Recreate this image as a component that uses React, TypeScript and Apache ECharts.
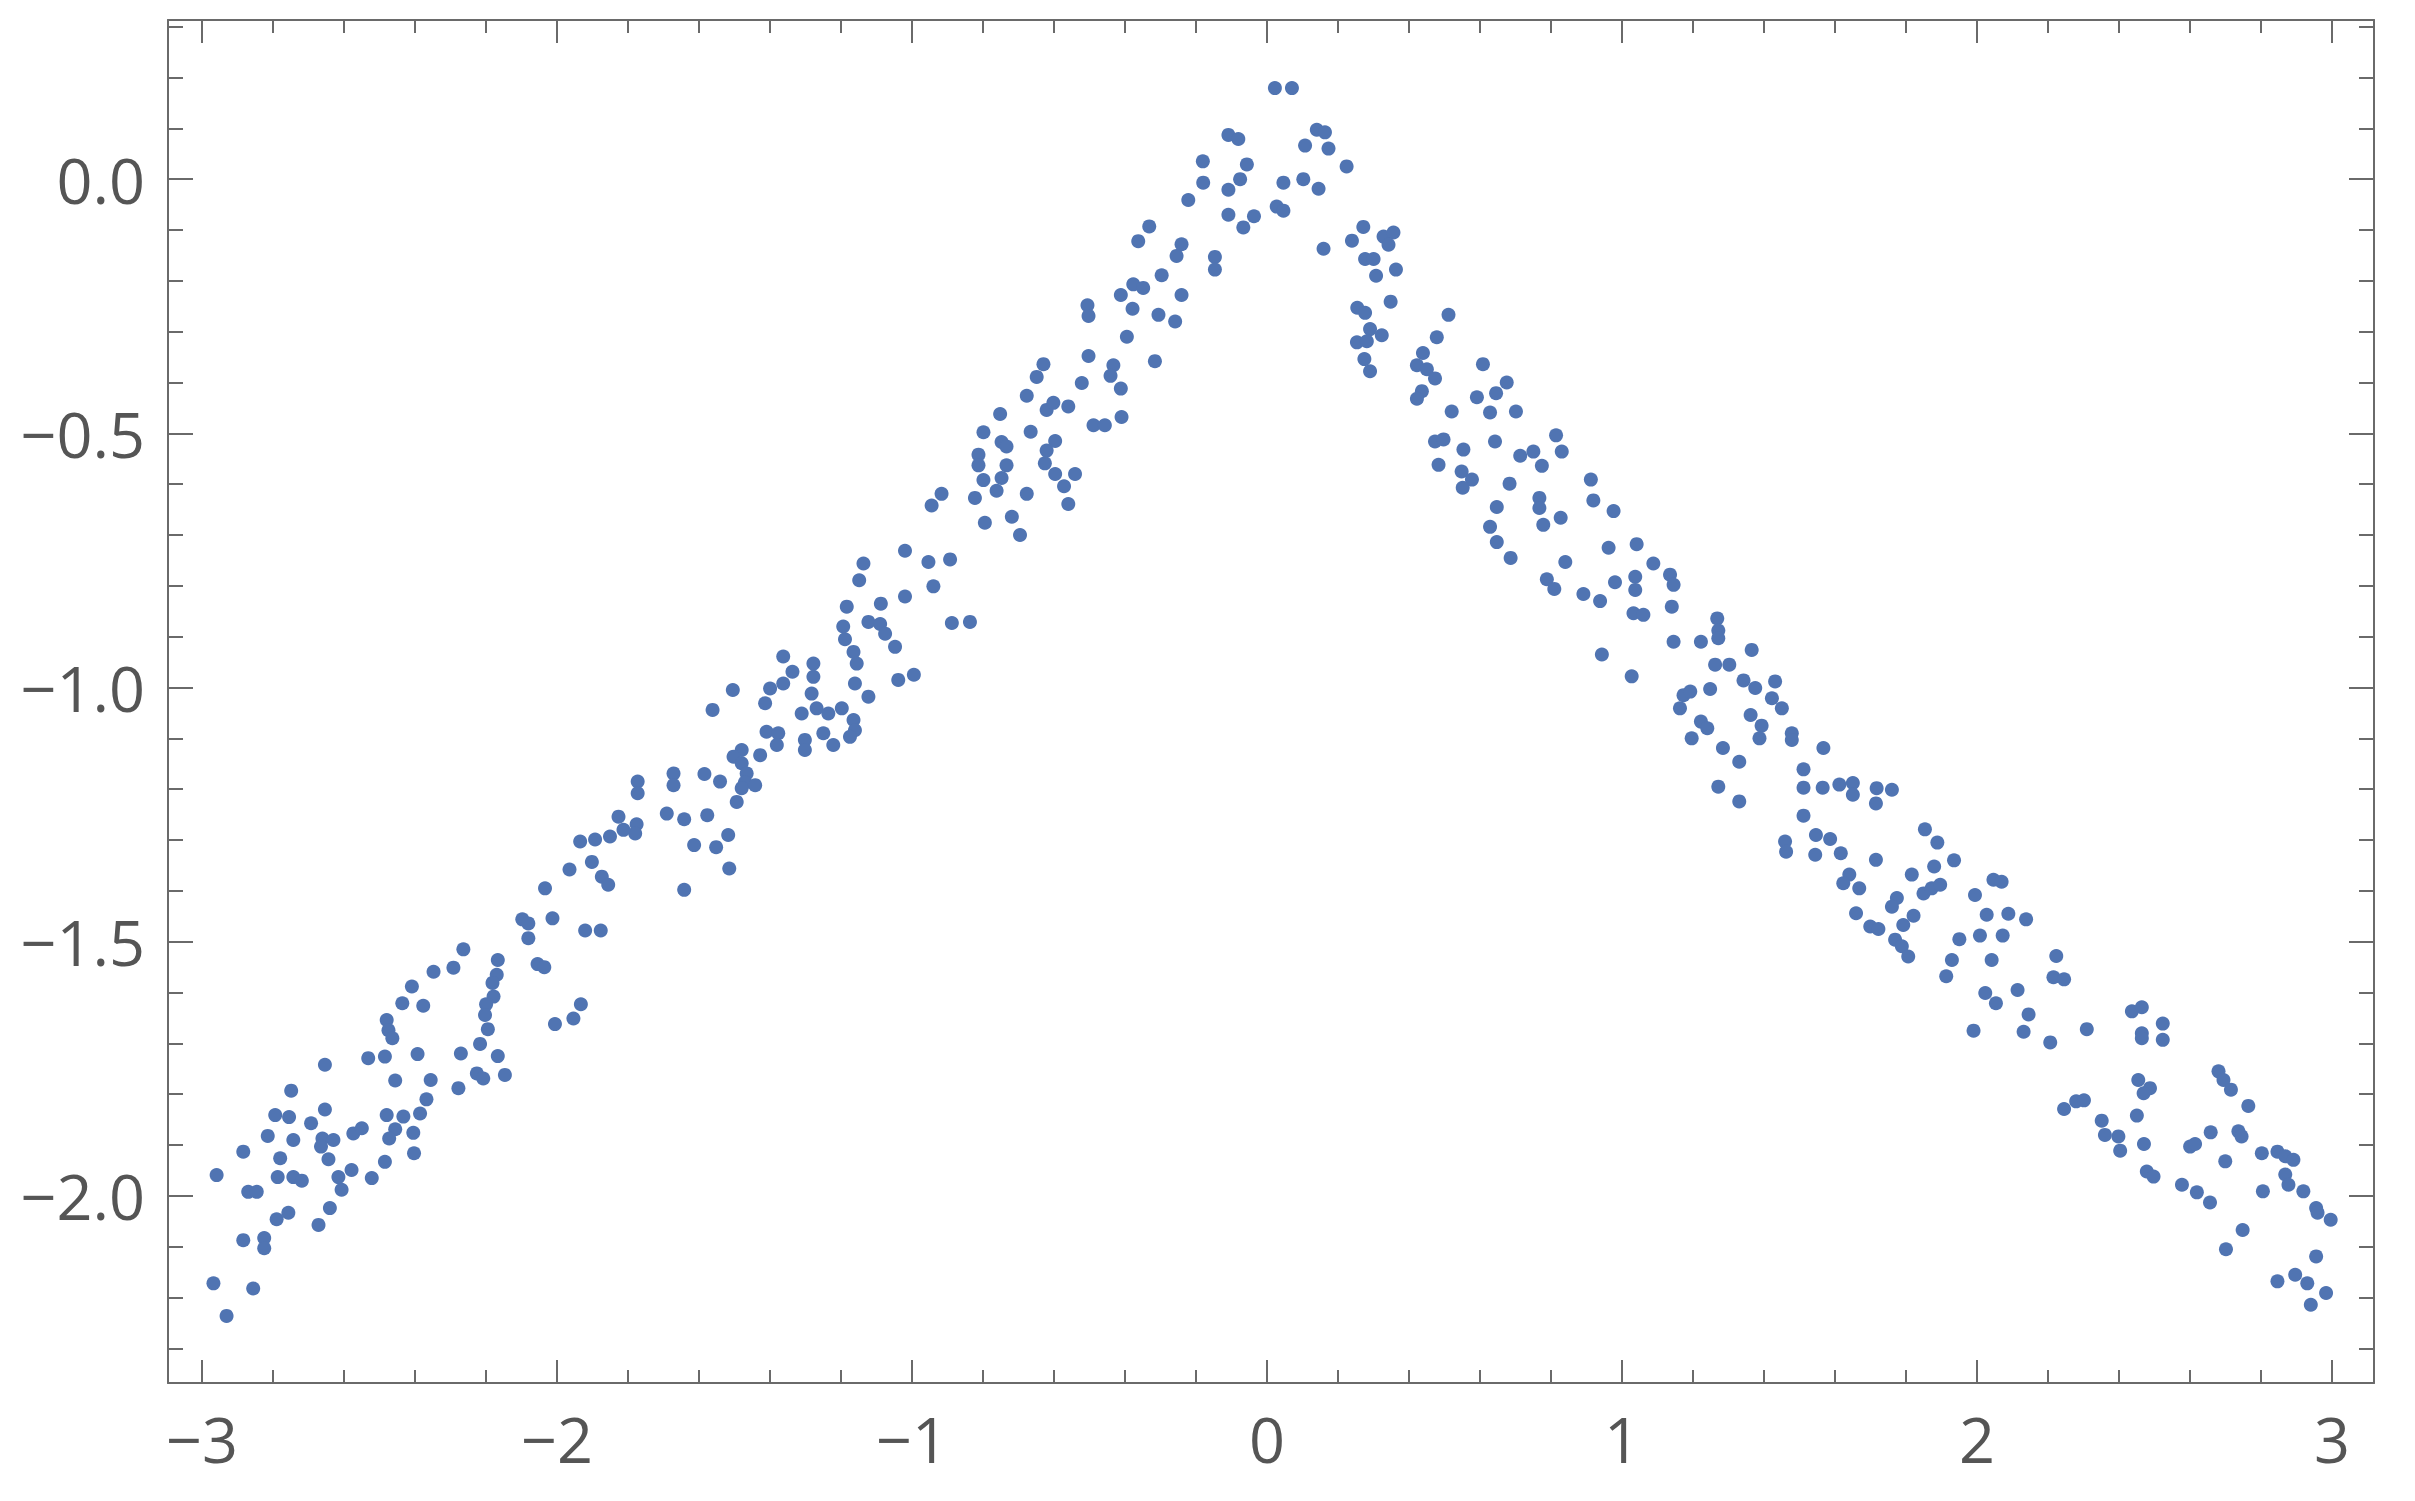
import React, { useEffect, useRef } from "react";
import * as echarts from "echarts";

// x in [-3, -2]
const segA: number[][] = [
  [-2.034,-1.395],[-2.013,-1.454],[-2.098,-1.456],[-2.081,-1.464],[-2.081,-1.493],[-2.055,-1.544],[-2.036,-1.550],[-2.006,-1.662],
  [-2.264,-1.515],[-2.292,-1.551],[-2.348,-1.559],[-2.409,-1.588],[-2.436,-1.621],[-2.377,-1.626],[-2.167,-1.536],[-2.170,-1.565],
  [-2.182,-1.581],[-2.179,-1.608],[-2.200,-1.623],[-2.203,-1.644],[-2.195,-1.672],[-2.217,-1.701],[-2.167,-1.725],[-2.271,-1.720],
  [-2.226,-1.759],[-2.208,-1.769],[-2.147,-1.762],[-2.278,-1.788],[-2.393,-1.721],[-2.356,-1.772],[-2.368,-1.810],[-2.386,-1.838],
  [-2.433,-1.844],[-2.480,-1.841],[-2.405,-1.876],[-2.456,-1.869],[-2.473,-1.887],[-2.403,-1.916],[-2.485,-1.933],[-2.522,-1.965],
  [-2.480,-1.654],[-2.475,-1.674],[-2.464,-1.690],[-2.532,-1.729],[-2.485,-1.726],[-2.456,-1.773],[-2.654,-1.742],[-2.749,-1.793],
  [-2.654,-1.830],[-2.693,-1.857],[-2.794,-1.841],[-2.755,-1.845],[-2.815,-1.882],[-2.743,-1.890],[-2.884,-1.913],[-2.780,-1.926],
  [-2.959,-1.959],[-2.787,-1.963],[-2.743,-1.963],[-2.719,-1.970],[-2.870,-1.992],[-2.846,-1.992],[-2.661,-1.887],[-2.630,-1.890],
  [-2.665,-1.903],[-2.644,-1.928],[-2.574,-1.877],[-2.550,-1.867],[-2.616,-1.963],[-2.579,-1.949],[-2.607,-1.988],[-2.640,-2.024],
  [-2.672,-2.057],[-2.790,-2.046],[-2.757,-2.033],[-2.884,-2.087],[-2.825,-2.083],[-2.825,-2.103],[-2.968,-2.172],[-2.856,-2.182],
  [-2.931,-2.236]
];

// x in [-2, -1]
const segB: number[][] = [
  [-1.184,-0.841],[-1.088,-0.835],[-1.194,-0.880],[-1.189,-0.905],[-1.123,-0.871],[-1.090,-0.875],[-1.076,-0.894],[-1.048,-0.920],
  [-1.165,-0.930],[-1.156,-0.953],[-1.161,-0.992],[-1.123,-1.018],[-1.039,-0.985],[-1.363,-0.939],[-1.337,-0.969],[-1.363,-0.992],
  [-1.400,-1.002],[-1.414,-1.031],[-1.505,-1.005],[-1.562,-1.044],[-1.278,-0.953],[-1.278,-0.979],[-1.283,-1.012],[-1.311,-1.051],
  [-1.269,-1.041],[-1.236,-1.051],[-1.198,-1.041],[-1.165,-1.064],[-1.161,-1.084],[-1.175,-1.097],[-1.222,-1.113],[-1.250,-1.090],
  [-1.302,-1.103],[-1.302,-1.123],[-1.410,-1.087],[-1.377,-1.090],[-1.381,-1.113],[-1.480,-1.123],[-1.503,-1.136],[-1.428,-1.133],
  [-1.480,-1.149],[-1.466,-1.169],[-1.471,-1.187],[-1.442,-1.192],[-1.480,-1.198],[-1.494,-1.225],[-1.585,-1.170],[-1.541,-1.185],
  [-1.672,-1.169],[-1.672,-1.192],[-1.773,-1.185],[-1.773,-1.208],[-1.691,-1.248],[-1.642,-1.259],[-1.577,-1.251],[-1.827,-1.254],
  [-1.776,-1.269],[-1.780,-1.287],[-1.813,-1.280],[-1.851,-1.293],[-1.893,-1.299],[-1.935,-1.303],[-1.518,-1.290],[-1.614,-1.310],
  [-1.552,-1.314],[-1.515,-1.356],[-1.642,-1.398],[-1.965,-1.358],[-1.902,-1.343],[-1.874,-1.372],[-1.856,-1.388],[-1.921,-1.478],
  [-1.877,-1.478],[-1.933,-1.623],[-1.954,-1.651],
  [-1.020,-0.731],[-1.137,-0.756],[-1.149,-0.789],[-1.020,-0.821]
];

// x in [-1, 0]
const segC: number[][] = [
  [-0.109,0.087],[-0.081,0.079],[-0.181,0.035],[-0.057,0.029],[-0.180,-0.007],[-0.076,0.000],[-0.109,-0.021],[0.027,-0.054],
  [-0.222,-0.041],[-0.109,-0.070],[-0.067,-0.095],[-0.037,-0.073],[-0.332,-0.093],[-0.363,-0.122],[-0.241,-0.128],[-0.255,-0.151],
  [-0.147,-0.153],[-0.147,-0.178],[-0.297,-0.189],[-0.377,-0.207],[-0.349,-0.214],[-0.412,-0.228],[-0.241,-0.228],[-0.506,-0.248],
  [-0.503,-0.269],[-0.379,-0.255],[-0.306,-0.267],[-0.259,-0.280],[-0.395,-0.310],[-0.503,-0.348],[-0.316,-0.358],[-0.433,-0.366],
  [-0.441,-0.387],[-0.412,-0.412],[-0.522,-0.401],[-0.630,-0.364],[-0.649,-0.389],[-0.677,-0.426],[-0.621,-0.454],[-0.602,-0.440],
  [-0.560,-0.447],[-0.752,-0.462],[-0.666,-0.497],[-0.799,-0.498],[-0.489,-0.484],[-0.457,-0.484],[-0.410,-0.468],[-0.748,-0.517],
  [-0.734,-0.526],[-0.597,-0.515],[-0.621,-0.534],[-0.626,-0.559],[-0.597,-0.580],[-0.572,-0.604],[-0.541,-0.580],[-0.560,-0.639],
  [-0.813,-0.542],[-0.813,-0.563],[-0.799,-0.592],[-0.762,-0.613],[-0.734,-0.563],[-0.748,-0.588],[-0.823,-0.627],[-0.677,-0.619],
  [-0.917,-0.619],[-0.945,-0.642],[-0.719,-0.664],[-0.696,-0.700],[-0.795,-0.676],[-0.954,-0.753],[-0.893,-0.748],[-0.940,-0.801],
  [-0.888,-0.873],[-0.837,-0.871],[-0.995,-0.975]
];

// x in [0, 1]
const segD: number[][] = [
  [0.022,0.179],[0.070,0.179],[0.140,0.097],[0.163,0.092],[0.107,0.066],[0.173,0.060],[0.224,0.025],[0.046,-0.007],
  [0.102,0.000],[0.145,-0.019],[0.046,-0.062],[0.159,-0.137],[0.239,-0.121],[0.271,-0.094],[0.328,-0.113],[0.356,-0.105],
  [0.342,-0.129],[0.276,-0.157],[0.300,-0.157],[0.307,-0.190],[0.363,-0.178],[0.348,-0.241],[0.254,-0.253],[0.276,-0.263],
  [0.290,-0.295],[0.323,-0.307],[0.253,-0.321],[0.281,-0.319],[0.274,-0.354],[0.290,-0.378],[0.511,-0.267],[0.478,-0.311],
  [0.439,-0.342],[0.422,-0.366],[0.450,-0.374],[0.473,-0.392],[0.436,-0.417],[0.422,-0.432],[0.520,-0.457],[0.608,-0.364],
  [0.675,-0.400],[0.645,-0.421],[0.591,-0.429],[0.628,-0.459],[0.701,-0.457],[0.814,-0.504],[0.830,-0.536],[0.473,-0.516],
  [0.497,-0.512],[0.553,-0.532],[0.642,-0.516],[0.713,-0.544],[0.750,-0.536],[0.774,-0.564],[0.483,-0.562],[0.548,-0.575],
  [0.577,-0.591],[0.551,-0.607],[0.683,-0.599],[0.647,-0.645],[0.767,-0.627],[0.767,-0.647],[0.778,-0.680],[0.827,-0.666],
  [0.628,-0.684],[0.647,-0.714],[0.686,-0.745],[0.912,-0.591],[0.919,-0.632],[0.976,-0.653],[0.962,-0.725],[1.041,-0.718],
  [0.840,-0.753],[0.788,-0.787],[0.809,-0.806],[0.891,-0.816],[0.938,-0.830],[0.980,-0.793],[0.943,-0.935]
];

// x in [1, 2]
const segE: number[][] = [
  [1.088,-0.756],[1.037,-0.782],[1.037,-0.808],[1.135,-0.778],[1.145,-0.798],[1.140,-0.841],[1.032,-0.854],[1.060,-0.857],
  [1.268,-0.864],[1.271,-0.888],[1.271,-0.903],[1.145,-0.910],[1.222,-0.910],[1.365,-0.926],[1.262,-0.955],[1.302,-0.955],
  [1.027,-0.978],[1.342,-0.986],[1.375,-1.001],[1.431,-0.988],[1.422,-1.021],[1.450,-1.041],[1.173,-1.015],[1.192,-1.008],
  [1.248,-1.003],[1.163,-1.041],[1.362,-1.054],[1.393,-1.075],[1.387,-1.100],[1.222,-1.067],[1.240,-1.080],[1.196,-1.100],
  [1.478,-1.090],[1.478,-1.103],[1.567,-1.119],[1.284,-1.119],[1.330,-1.146],[1.271,-1.195],[1.330,-1.224],[1.511,-1.161],
  [1.511,-1.197],[1.565,-1.197],[1.612,-1.191],[1.650,-1.188],[1.650,-1.211],[1.717,-1.198],[1.760,-1.201],[1.715,-1.228],
  [1.511,-1.252],[1.546,-1.290],[1.586,-1.298],[1.459,-1.303],[1.462,-1.323],[1.544,-1.329],[1.616,-1.326],[1.715,-1.339],
  [1.853,-1.279],[1.888,-1.305],[1.935,-1.340],[1.879,-1.352],[1.816,-1.368],[1.640,-1.368],[1.623,-1.385],[1.668,-1.395],
  [1.849,-1.405],[1.872,-1.395],[1.896,-1.388],[1.994,-1.408],[2.046,-1.378],[1.774,-1.414],[1.760,-1.431],[1.659,-1.444],
  [1.699,-1.470],[1.722,-1.475],[1.821,-1.449],[1.792,-1.467],[1.769,-1.496],[1.788,-1.509],[1.806,-1.529],[1.950,-1.495],
  [2.008,-1.488],[2.027,-1.447],[1.929,-1.536],[1.913,-1.568],[2.041,-1.536],[2.023,-1.601],[2.053,-1.621],[1.990,-1.675]
];

// x in [2, 3]
const segF: number[][] = [
  [2.069,-1.382],[2.088,-1.445],[2.138,-1.456],[2.072,-1.488],[2.223,-1.528],[2.215,-1.570],[2.245,-1.574],[2.114,-1.595],
  [2.145,-1.643],[2.131,-1.677],[2.206,-1.698],[2.309,-1.672],[2.436,-1.637],[2.464,-1.629],[2.464,-1.680],[2.464,-1.690],
  [2.523,-1.661],[2.523,-1.693],[2.680,-1.755],[2.694,-1.772],[2.715,-1.791],[2.764,-1.823],[2.454,-1.772],[2.487,-1.788],
  [2.469,-1.798],[2.245,-1.829],[2.279,-1.814],[2.301,-1.812],[2.351,-1.852],[2.360,-1.880],[2.398,-1.883],[2.403,-1.911],
  [2.450,-1.842],[2.470,-1.898],[2.478,-1.952],[2.497,-1.962],[2.600,-1.903],[2.614,-1.898],[2.658,-1.875],[2.736,-1.873],
  [2.745,-1.883],[2.699,-1.932],[2.802,-1.916],[2.846,-1.913],[2.868,-1.922],[2.891,-1.929],[2.868,-1.958],[2.877,-1.978],
  [2.919,-1.991],[2.805,-1.991],[2.577,-1.978],[2.619,-1.993],[2.656,-2.013],[2.955,-2.024],[2.959,-2.033],[2.996,-2.047],
  [2.748,-2.067],[2.701,-2.105],[2.955,-2.119],[2.846,-2.168],[2.896,-2.155],[2.930,-2.172],[2.983,-2.191],[2.940,-2.214]
];

const xMajorTicks = [-3, -2, -1, 0, 1, 2, 3];
const xMinorTicks = [-2.8, -2.6, -2.4, -2.2, -1.8, -1.6, -1.4, -1.2, -0.8, -0.6, -0.4, -0.2,
  0.2, 0.4, 0.6, 0.8, 1.2, 1.4, 1.6, 1.8, 2.2, 2.4, 2.6, 2.8];
const yMajorTicks = [-2.0, -1.5, -1.0, -0.5, 0.0];
const yMinorTicks = [-2.3, -2.2, -2.1, -1.9, -1.8, -1.7, -1.6, -1.4, -1.3, -1.2, -1.1, -0.9, -0.8,
  -0.7, -0.6, -0.4, -0.3, -0.2, -0.1, 0.1, 0.2, 0.3];

const X_MIN = -3.096;
const X_MAX = 3.118;
const Y_MIN = -2.368;
const Y_MAX = 0.313;

const FRAME = "#6a6a6a";
const LABEL = "#555555";

function minus(s: string) {
  return s.replace("-", "\u2212");
}

export default function App() {
  const ref = useRef<HTMLDivElement>(null);
  useEffect(() => {
    if (!ref.current) return;
    const chart = echarts.init(ref.current, undefined, { renderer: "svg" });
    const lineStyle = { color: FRAME, width: 2 };
    const mkX = (position: string, ticks: number[], len: number, line: boolean, labels: boolean) => ({
      type: "value",
      position,
      min: X_MIN,
      max: X_MAX,
      axisLine: { show: line, onZero: false, lineStyle },
      axisTick: { show: true, inside: true, length: len, customValues: ticks, lineStyle },
      axisLabel: labels
        ? {
            show: true,
            customValues: ticks,
            margin: 24,
            fontSize: 63,
            fontFamily: "Open Sans",
            color: LABEL,
            formatter: (v: number) => minus(String(Math.round(v))),
          }
        : { show: false },
      splitLine: { show: false },
      minorTick: { show: false },
    });
    const mkY = (position: string, ticks: number[], len: number, line: boolean, labels: boolean) => ({
      type: "value",
      position,
      min: Y_MIN,
      max: Y_MAX,
      axisLine: { show: line, onZero: false, lineStyle },
      axisTick: { show: true, inside: true, length: len, customValues: ticks, lineStyle },
      axisLabel: labels
        ? {
            show: true,
            customValues: ticks,
            margin: 23,
            fontSize: 63,
            fontFamily: "Open Sans",
            color: LABEL,
            formatter: (v: number) => minus((Math.abs(v) < 1e-9 ? 0 : v).toFixed(1)),
          }
        : { show: false },
      splitLine: { show: false },
      minorTick: { show: false },
    });
    const data = [...segA, ...segB, ...segC, ...segD, ...segE, ...segF];
    chart.setOption({
      animation: false,
      backgroundColor: "#ffffff",
      grid: { left: 168, top: 20, right: 41, bottom: 118 },
      xAxis: [
        mkX("bottom", xMajorTicks, 23, true, true),
        mkX("top", xMajorTicks, 23, true, false),
        mkX("bottom", xMinorTicks, 13, false, false),
        mkX("top", xMinorTicks, 13, false, false),
      ],
      yAxis: [
        mkY("left", yMajorTicks, 25, true, true),
        mkY("right", yMajorTicks, 25, true, false),
        mkY("left", yMinorTicks, 15, false, false),
        mkY("right", yMinorTicks, 15, false, false),
      ],
      series: [
        {
          type: "scatter",
          xAxisIndex: 0,
          yAxisIndex: 0,
          data,
          symbolSize: 14,
          itemStyle: { color: "#5074b2", opacity: 1 },
        },
      ],
    });
    return () => chart.dispose();
  }, []);
  return (
    <div
      ref={ref}
      style={{ position: "fixed", left: 0, top: 0, width: 2415, height: 1501, background: "#fff" }}
    />
  );
}
